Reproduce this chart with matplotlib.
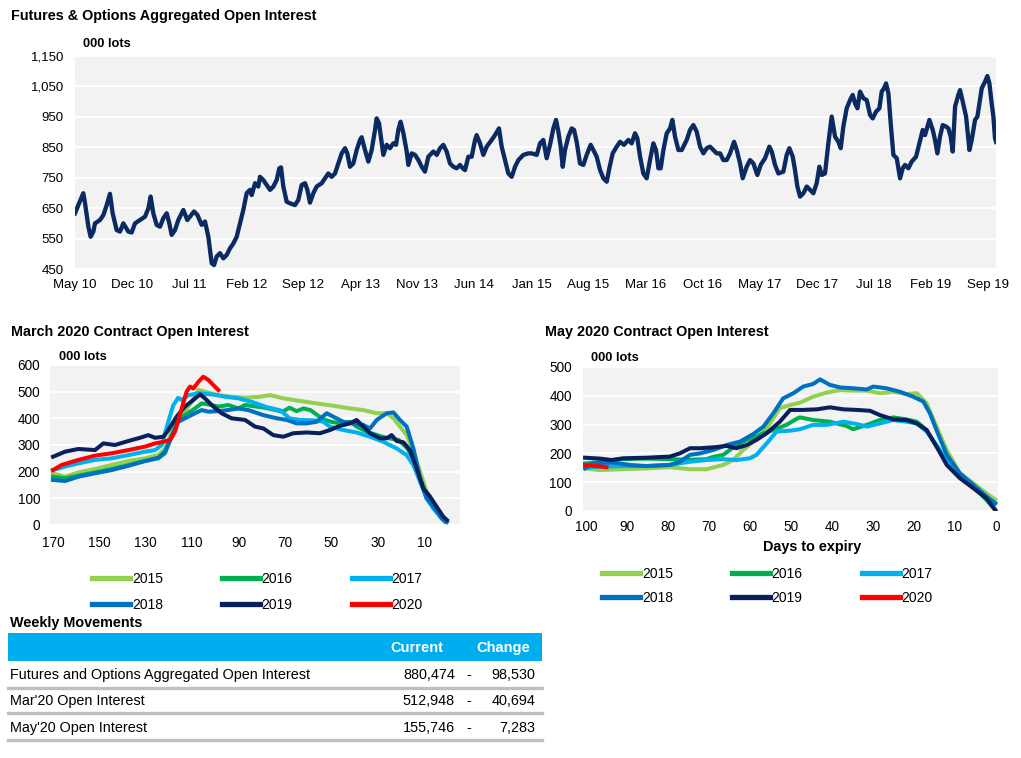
import matplotlib
matplotlib.use('Agg')
import matplotlib.pyplot as plt
from matplotlib.lines import Line2D
from matplotlib.patches import Rectangle
from matplotlib.ticker import FuncFormatter

plt.rcParams['font.family'] = ['Liberation Sans', 'DejaVu Sans']

# ---------------- data ----------------
# Aggregated F&O open interest: (months since May 2010, thousand lots)
agg_oi = [
    (0, 633), (0.41, 660), (1.02, 699), (1.23, 666), (1.64, 589), (1.92, 556), (2.25, 573), (2.45, 600),
    (3.07, 611), (3.48, 627), (3.89, 660), (4.29, 697), (4.62, 633), (5.11, 578), (5.52, 573), (5.93, 600),
    (6.54, 573), (6.95, 570), (7.36, 600), (7.98, 611), (8.59, 622), (9.0, 649), (9.28, 688), (9.61, 633),
    (10.02, 595), (10.43, 589), (10.84, 617), (11.25, 633), (11.57, 600), (11.86, 562), (12.27, 578),
    (12.68, 611), (13.29, 644), (13.78, 611), (14.11, 622), (14.6, 639), (15.01, 628), (15.54, 595),
    (15.95, 606), (16.36, 556), (16.77, 469), (17.06, 463), (17.38, 491), (17.79, 502), (18.2, 485),
    (18.61, 496), (19.02, 518), (19.43, 534), (19.84, 556), (20.25, 600), (20.65, 644), (21.06, 699),
    (21.47, 710), (21.68, 693), (22.09, 732), (22.49, 721), (22.7, 753), (23.11, 742), (23.52, 726),
    (23.93, 710), (24.34, 721), (24.74, 742), (25.07, 781), (25.28, 784), (25.56, 721), (25.97, 671),
    (26.38, 666), (26.99, 660), (27.4, 677), (27.81, 726), (28.22, 732), (28.51, 710), (28.83, 668),
    (29.24, 699), (29.65, 721), (30.27, 732), (30.67, 748), (31.08, 764), (31.49, 753), (31.9, 764),
    (32.31, 797), (32.72, 830), (33.13, 847), (33.41, 830), (33.74, 786), (34.15, 797), (34.56, 841),
    (34.97, 874), (35.17, 883), (35.58, 841), (35.99, 803), (36.4, 841), (36.81, 907), (37.01, 945),
    (37.3, 929), (37.63, 863), (37.83, 825), (38.24, 858), (38.65, 847), (39.06, 863), (39.39, 858),
    (39.67, 907), (39.95, 934), (40.29, 896), (40.7, 836), (40.9, 792), (41.31, 830), (41.72, 825),
    (42.13, 808), (42.54, 786), (42.94, 770), (43.35, 819), (43.97, 836), (44.38, 825), (44.79, 847),
    (45.19, 858), (45.6, 836), (46.01, 797), (46.42, 786), (46.83, 781), (47.24, 792), (47.57, 781),
    (47.85, 775), (48.26, 819), (48.67, 819), (49.08, 874), (49.28, 890), (49.69, 863), (50.1, 825),
    (50.51, 852), (51.12, 874), (51.53, 890), (52.02, 912), (52.35, 852), (52.76, 808), (53.17, 764),
    (53.58, 753), (53.99, 786), (54.4, 808), (55.01, 825), (55.62, 830), (56.03, 830), (56.65, 825),
    (57.06, 863), (57.46, 874), (57.87, 814), (58.28, 858), (58.69, 912), (59.02, 940), (59.31, 901),
    (59.59, 852), (59.84, 786), (60.12, 841), (60.53, 885), (60.94, 912), (61.23, 907), (61.55, 868),
    (61.96, 797), (62.37, 792), (62.78, 825), (63.27, 858), (63.6, 841), (64.01, 819), (64.42, 775),
    (64.83, 748), (65.24, 737), (65.56, 781), (65.97, 830), (66.46, 852), (66.87, 868), (67.36, 858),
    (67.89, 874), (68.3, 863), (68.71, 896), (69.0, 879), (69.33, 819), (69.73, 764), (70.14, 748),
    (70.55, 808), (70.96, 863), (71.29, 841), (71.58, 781), (71.86, 781), (72.19, 841), (72.6, 896),
    (73.01, 912), (73.29, 940), (73.62, 885), (74.03, 841), (74.44, 841), (75.05, 874), (75.46, 907),
    (75.87, 923), (76.28, 901), (76.69, 852), (77.1, 830), (77.51, 847), (77.91, 852), (78.32, 841),
    (78.73, 830), (79.14, 830), (79.55, 808), (79.96, 808), (80.37, 830), (80.86, 868), (81.19, 841),
    (81.6, 797), (81.92, 748), (82.41, 786), (82.82, 808), (83.23, 797), (83.72, 759), (84.13, 792),
    (84.66, 814), (85.19, 852), (85.48, 836), (85.89, 792), (86.3, 764), (86.91, 770), (87.32, 825),
    (87.65, 847), (88.06, 819), (88.34, 775), (88.63, 721), (88.96, 688), (89.37, 699), (89.78, 721),
    (90.18, 710), (90.59, 699), (91.0, 732), (91.33, 786), (91.62, 759), (92.02, 764), (92.43, 863),
    (92.84, 951), (93.25, 885), (93.66, 868), (93.95, 847), (94.27, 918), (94.68, 978), (95.09, 1005),
    (95.42, 1022), (95.71, 994), (96.0, 978), (96.32, 1033), (96.73, 1011), (97.14, 1005), (97.55, 956),
    (97.87, 945), (98.28, 967), (98.69, 978), (98.98, 1033), (99.26, 1044), (99.51, 1060), (99.8, 1027),
    (100.08, 929), (100.41, 825), (100.82, 814), (101.23, 748), (101.55, 781), (101.84, 792),
    (102.25, 781), (102.66, 803), (103.19, 819), (103.6, 863), (104.01, 907), (104.29, 890),
    (104.83, 940), (105.24, 907), (105.52, 874), (105.81, 830), (106.13, 885), (106.46, 923),
    (106.87, 918), (107.16, 912), (107.44, 885), (107.69, 836), (107.98, 984), (108.38, 1022),
    (108.59, 1038), (108.92, 1000), (109.33, 951), (109.74, 841), (110.02, 874), (110.43, 940),
    (110.72, 951), (110.96, 994), (111.25, 1044), (111.66, 1066), (111.94, 1084), (112.19, 1060),
    (112.47, 994), (112.68, 951), (112.88, 879), (113.01, 868),
]
agg_tick_pos = [0, 7, 14, 21, 28, 35, 42, 49, 56, 63, 70, 77, 84, 91, 98, 105, 112]
agg_tick_labels = ['May 10', 'Dec 10', 'Jul 11', 'Feb 12', 'Sep 12', 'Apr 13', 'Nov 13', 'Jun 14',
                   'Jan 15', 'Aug 15', 'Mar 16', 'Oct 16', 'May 17', 'Dec 17', 'Jul 18', 'Feb 19', 'Sep 19']

years = ['2015', '2016', '2017', '2018', '2019', '2020']
year_colors = ['#92D050', '#00B050', '#00B0F0', '#0070C0', '#0A1F5C', '#FF0000']

# March contract: (days to expiry, thousand lots)
mar_2015 = [(170, 194), (164.8, 181), (159.1, 197), (151.9, 210), (144.7, 225), (137.5, 240), (130.3, 250),
            (124.6, 262), (121.7, 287), (118.8, 350), (116, 400), (113.1, 425), (110.2, 462), (107.3, 506),
            (104.5, 500), (98.7, 487), (93, 481), (87.2, 477), (80.7, 481), (76.4, 487), (70.7, 475),
            (63.5, 465), (56.3, 456), (49.1, 447), (41.9, 437), (36.2, 431), (30.4, 419), (26.1, 419),
            (23.2, 400), (20.4, 369), (17.5, 337), (14.6, 275), (11.7, 200), (8.9, 125), (5.3, 75),
            (1.7, 19), (0.2, 12)]
mar_2016 = [(170, 181), (164.8, 175), (159.1, 185), (151.9, 197), (144.7, 210), (137.5, 225), (130.3, 240),
            (124.6, 250), (121.7, 269), (118.8, 337), (116, 394), (113.1, 412), (108.8, 437), (105.9, 456),
            (103, 452), (98.7, 444), (94.4, 450), (90.1, 437), (87.2, 450), (83, 445), (79, 440), (74, 431),
            (71, 425), (68, 440), (65, 427), (62, 437), (59, 431), (56, 412), (53, 395), (50, 387), (46, 381),
            (42, 387), (39, 369), (36, 355), (33, 345), (28, 331), (25, 325), (21, 319), (17.5, 290),
            (14.6, 250), (11.7, 175), (8.9, 110), (5.3, 62), (2.4, 25), (1, 12)]
mar_2017 = [(170, 206), (164.8, 219), (159.1, 231), (151.9, 244), (144.7, 250), (137.5, 262), (130.3, 275),
            (126, 281), (123.1, 300), (120.3, 387), (118.1, 450), (116, 477), (114.5, 469), (111.6, 487),
            (107.3, 494), (101.6, 490), (95.8, 481), (90.1, 475), (84.3, 462), (77.9, 442), (72, 430),
            (68, 400), (63.5, 394), (56.3, 392), (53.4, 387), (50.6, 369), (44.8, 356), (39.1, 347),
            (33.3, 331), (27.6, 312), (21.8, 287), (17.5, 262), (14.6, 225), (11.7, 162), (8.9, 100),
            (6.0, 62), (2.4, 25), (0.2, 12)]
mar_2018 = [(170, 169), (164.8, 165), (159.1, 181), (151.9, 194), (144.7, 206), (137.5, 222), (130.3, 240),
            (124.6, 252), (121.7, 275), (118.8, 331), (116, 387), (113.1, 400), (108.8, 419), (105.9, 431),
            (103, 425), (98.7, 427), (94.4, 431), (90.1, 437), (85.8, 431), (79.3, 412), (73.5, 400),
            (69.2, 394), (64.9, 381), (60.6, 381), (56.3, 387), (52, 419), (49.1, 406), (44.8, 387),
            (40.5, 381), (36.2, 375), (33.3, 362), (30.4, 394), (26.1, 419), (23.2, 422), (20.4, 394),
            (17.5, 369), (14.6, 287), (11.7, 175), (8.9, 100), (5.3, 62), (2.4, 25), (0.2, 12)]
mar_2019 = [(170, 256), (164.8, 275), (159.1, 285), (151.9, 281), (148.3, 306), (143.3, 300), (137.5, 315),
            (132.5, 327), (128.9, 337), (126, 327), (122.4, 331), (120.3, 356), (116.7, 406), (113.1, 444),
            (109.5, 469), (106.6, 490), (104.5, 475), (101.6, 450), (97.3, 419), (93, 400), (87.2, 394),
            (82.9, 369), (79.3, 362), (75, 337), (70.7, 331), (66.4, 344), (60.6, 347), (54.9, 344),
            (50.6, 356), (46.2, 372), (41.9, 381), (39.1, 394), (36.2, 369), (33.3, 344), (29, 325),
            (26.1, 325), (24, 337), (21.8, 315), (18.9, 310), (16.05, 281), (13.2, 212), (10.3, 137),
            (7.4, 106), (4.6, 69), (1.7, 31), (0.2, 19)]
mar_2020 = [(170, 206), (166.3, 225), (159.1, 244), (151.9, 260), (144.7, 269), (137.5, 281), (130.3, 294),
            (126, 306), (122.4, 312), (119.5, 319), (117.4, 350), (114.5, 437), (112.4, 500), (110.9, 519),
            (109.5, 512), (107.3, 537), (105.2, 556), (103, 544), (100.9, 525), (98.7, 506)]

# May contract: (days to expiry, thousand lots)
may_2015 = [(100.2, 148), (96.6, 142), (91.7, 145), (85.2, 148), (79.5, 152), (74.6, 145), (70.6, 145),
            (66.5, 160), (64.1, 177), (61.6, 212), (59.2, 241), (55.9, 287), (52.7, 357), (50.2, 368),
            (47.8, 376), (44.6, 397), (41.3, 411), (38.0, 420), (34.8, 418), (31.5, 418), (28.3, 409),
            (25.0, 414), (21.8, 406), (19.3, 409), (16.9, 374), (14.5, 293), (12.0, 212), (8.8, 131),
            (5.5, 96), (2.3, 61), (0.2, 40)]
may_2016 = [(100.2, 165), (96.6, 170), (91.7, 180), (85.2, 182), (79.5, 180), (74.6, 178), (70.6, 180),
            (68.9, 188), (66.5, 195), (63.3, 229), (60.8, 247), (58.4, 258), (56.7, 270), (54.3, 281),
            (51.1, 299), (48.6, 320), (47.8, 325), (44.6, 316), (40.5, 310), (36.4, 295), (34.8, 284),
            (31.5, 299), (28.3, 316), (25.0, 325), (21.8, 318), (19.3, 310), (16.9, 281), (14.5, 224),
            (12.0, 177), (8.8, 125), (5.5, 85), (2.3, 38), (0.2, 4)]
may_2017 = [(100.2, 150), (96.6, 154), (91.7, 156), (85.2, 156), (79.5, 160), (74.6, 171), (70.6, 177),
            (66.5, 180), (63.3, 177), (60.0, 183), (58.4, 195), (55.9, 235), (53.5, 276), (50.2, 279),
            (47.8, 284), (44.6, 299), (41.3, 299), (37.2, 310), (34.0, 302), (31.5, 293), (28.3, 304),
            (25.0, 316), (21.8, 310), (19.3, 304), (16.9, 276), (14.5, 229), (12.0, 177), (8.8, 125),
            (5.5, 90), (2.3, 50), (0.2, 27)]
may_2018 = [(100.2, 148), (98.2, 166), (93.3, 168), (89.3, 160), (85.2, 156), (79.5, 160), (77.1, 171),
            (74.6, 195), (72.2, 200), (68.9, 212), (65.7, 229), (62.4, 241), (59.2, 267), (56.7, 293),
            (54.3, 339), (51.9, 391), (49.4, 409), (47.0, 432), (44.6, 441), (42.9, 457), (40.5, 438),
            (38.0, 429), (34.8, 426), (31.5, 422), (29.9, 432), (26.7, 426), (23.4, 414), (20.2, 397),
            (17.7, 380), (16.1, 339), (14.5, 281), (12.0, 195), (8.8, 131), (5.5, 90), (2.3, 50), (0.2, 27)]
may_2019 = [(100.2, 185), (96.6, 182), (93.7, 177), (90.9, 183), (85.2, 185), (79.5, 189), (77.1, 200),
            (74.6, 218), (72.2, 218), (68.9, 221), (65.7, 226), (63.3, 218), (60.8, 229), (58.4, 247),
            (55.9, 270), (52.7, 310), (50.2, 351), (47.0, 351), (43.7, 353), (40.5, 360), (37.2, 353),
            (34.0, 351), (30.7, 348), (28.3, 333), (25.0, 318), (21.8, 316), (19.3, 304), (16.9, 281),
            (14.5, 224), (12.0, 160), (8.8, 114), (5.5, 79), (2.3, 44), (0.2, 4)]
may_2020 = [(100.2, 160), (97.4, 156), (95.0, 152)]

mar_series = [mar_2015, mar_2016, mar_2017, mar_2018, mar_2019, mar_2020]
may_series = [may_2015, may_2016, may_2017, may_2018, may_2019, may_2020]

table_header = ['Current', 'Change']
table_rows = ['Futures and Options Aggregated Open Interest', "Mar'20 Open Interest", "May'20 Open Interest"]
table_current = ['880,474', '512,948', '155,746']
table_sign = ['-', '-', '-']
table_change = ['98,530', '40,694', '7,283']

# ---------------- figure ----------------
W, H = 1021, 758
fig = plt.figure(figsize=(W / 100, H / 100), dpi=100)
fig.patch.set_facecolor('white')
TXT = '#000000'
BG = '#F2F2F2'
TITLE_FS = 10.4


def rect(x0, y0, x1, y1):
    return [x0 / W, 1 - y1 / H, (x1 - x0) / W, (y1 - y0) / H]


def ftext(x, y, s, **kw):
    return fig.text(x / W, 1 - y / H, s, **kw)


def style(ax, ypad, xpad, size=9):
    ax.set_facecolor(BG)
    for s in ax.spines.values():
        s.set_visible(False)
    ax.grid(axis='y', color='white', lw=1.4)
    ax.grid(axis='x', visible=False)
    ax.set_axisbelow(True)
    ax.tick_params(axis='both', length=0, labelsize=size, colors=TXT)
    ax.tick_params(axis='y', pad=ypad)
    ax.tick_params(axis='x', pad=xpad)


# ---- top chart ----
ax = fig.add_axes(rect(75, 56, 996, 269))
style(ax, ypad=8, xpad=7, size=9.5)
xs = [p[0] for p in agg_oi]
ys = [p[1] for p in agg_oi]
ax.plot(xs, ys, color='#0B2A62', lw=3.1, solid_joinstyle='round')
ax.set_xlim(0, 113)
ax.set_ylim(450, 1150)
ax.set_yticks(range(450, 1151, 100))
ax.yaxis.set_major_formatter(FuncFormatter(lambda v, p: f'{int(v):,}'))
ax.set_xticks(agg_tick_pos)
ax.set_xticklabels(agg_tick_labels)

ftext(11, 16, 'Futures & Options Aggregated Open Interest', fontsize=TITLE_FS, fontweight='bold',
      va='center', color=TXT)
ftext(83, 44, '000 lots', fontsize=9.3, fontweight='bold', va='center', color=TXT)


def legend(ax, x, y, spacing):
    order = [0, 3, 1, 4, 2, 5]
    handles = [Line2D([], [], color=year_colors[i], lw=3.8) for i in order]
    labels = [years[i] for i in order]
    ax.legend(handles, labels, ncol=3, loc='upper left', bbox_to_anchor=(x / W, 1 - y / H),
              bbox_transform=fig.transFigure, frameon=False, fontsize=10, handlelength=2.75,
              handletextpad=0.12, columnspacing=4.25, labelspacing=spacing, borderpad=0, borderaxespad=0)


# ---- March chart ----
ax2 = fig.add_axes(rect(50, 365, 460, 525))
style(ax2, ypad=7, xpad=8, size=9.8)
for ser, c in zip(mar_series, year_colors):
    ax2.plot([p[0] for p in ser], [p[1] for p in ser], color=c, lw=2.9, solid_joinstyle='round')
ax2.set_xlim(171.3, -5.5)
ax2.set_ylim(0, 600)
ax2.set_yticks(range(0, 601, 100))
ax2.set_xticks(range(170, 9, -20))
ftext(11, 332, 'March 2020 Contract Open Interest', fontsize=TITLE_FS, fontweight='bold', va='center', color=TXT)
ftext(59, 357, '000 lots', fontsize=9.3, fontweight='bold', va='center', color=TXT)
legend(ax2, 92, 572, 0.85)

# ---- May chart ----
ax3 = fig.add_axes(rect(583, 367, 998, 511))
style(ax3, ypad=8, xpad=6.5, size=9.8)
for ser, c in zip(may_series, year_colors):
    ax3.plot([p[0] for p in ser], [p[1] for p in ser], color=c, lw=2.9, solid_joinstyle='round')
ax3.set_xlim(100.7, -0.5)
ax3.set_ylim(0, 500)
ax3.set_yticks(range(0, 501, 100))
ax3.set_xticks(range(100, -1, -10))
ax3.set_xlabel('Days to expiry', fontsize=10.4, fontweight='bold', color=TXT)
ax3.xaxis.set_label_coords((812 - 583) / 415, -(540 - 511) / 144)
ftext(545, 332, 'May 2020 Contract Open Interest', fontsize=TITLE_FS, fontweight='bold', va='center', color=TXT)
ftext(591, 358, '000 lots', fontsize=9.3, fontweight='bold', va='center', color=TXT)
legend(ax3, 602, 567, 0.7)

# ---- table ----
ftext(10, 623, 'Weekly Movements', fontsize=TITLE_FS, fontweight='bold', va='center', color=TXT)
fig.patches.append(Rectangle((8 / W, 1 - 661 / H), (542 - 8) / W, (661 - 633) / H,
                             transform=fig.transFigure, facecolor='#00AEEF', edgecolor='none'))
ftext(443, 648, table_header[0], fontsize=10.5, fontweight='bold', color='white', ha='right', va='center')
ftext(530, 648, table_header[1], fontsize=10.5, fontweight='bold', color='white', ha='right', va='center')
row_y = [675, 701, 728]
sep_y = [688, 713, 740]
for i in range(3):
    ftext(10, row_y[i], table_rows[i], fontsize=10.4, color=TXT, va='center')
    ftext(455, row_y[i], table_current[i], fontsize=10.4, color=TXT, va='center', ha='right')
    ftext(469, row_y[i], table_sign[i], fontsize=10.4, color=TXT, va='center', ha='center')
    ftext(535, row_y[i], table_change[i], fontsize=10.4, color=TXT, va='center', ha='right')
    fig.add_artist(Line2D([8 / W, 542 / W], [1 - sep_y[i] / H] * 2, transform=fig.transFigure,
                          color='#BFBFBF', lw=2.4))

fig.savefig('out.png', dpi=100)
